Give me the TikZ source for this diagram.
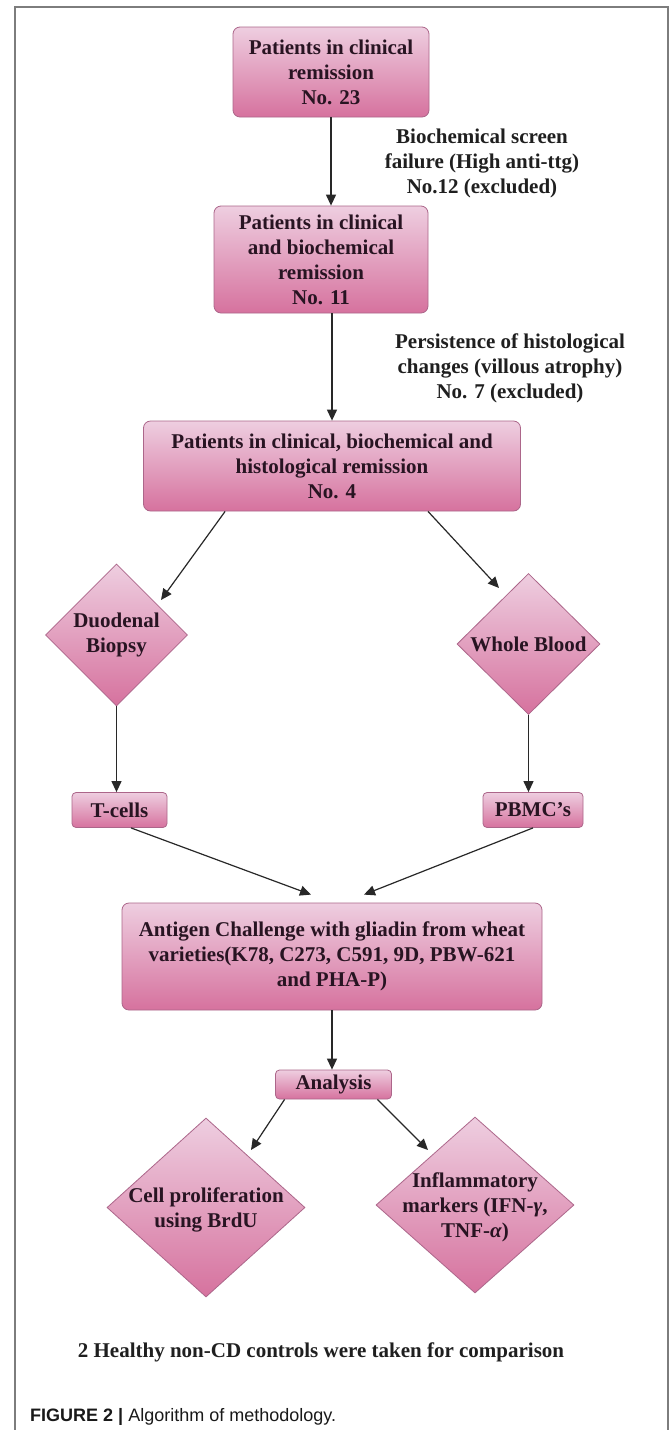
\documentclass[tikz,border=0pt]{standalone}
\usepackage{fontspec}
\setmainfont{Liberation Serif}
\newfontfamily\capfont{Liberation Sans}
\usetikzlibrary{shapes.geometric,arrows.meta,calc}
\definecolor{pinktop}{RGB}{238,206,224}
\definecolor{pinkbot}{RGB}{214,114,158}
\definecolor{pinkline}{RGB}{172,102,138}
\definecolor{txt}{RGB}{40,20,34}
\definecolor{arrowc}{RGB}{40,40,40}
\definecolor{framec}{RGB}{125,125,125}
\begin{document}
\begin{tikzpicture}[x=1pt,y=-1pt,
  box/.style={draw=pinkline, line width=0.8pt, rounded corners=7pt,
    top color=pinktop, bottom color=pinkbot, align=center, inner sep=0pt,
    text=txt, font=\fontsize{21}{25}\selectfont\bfseries},
  dia/.style={diamond, draw=pinkline, line width=0.8pt, top color=pinktop,
    bottom color=pinkbot, inner sep=0pt},
  dtext/.style={align=center, text=txt, inner sep=0pt, font=\fontsize{21}{25}\selectfont\bfseries},
  lbl/.style={align=center, text=black!88, inner sep=0pt, font=\fontsize{21}{25}\selectfont\bfseries},
  arr/.style={draw=arrowc, line width=1.2pt, -{Triangle[length=11pt,width=10pt]}}
]
\useasboundingbox (0,0) rectangle (671,1430);
\fill[white] (0,0) rectangle (671,1430);
\draw[framec, line width=1.4pt] (15,1431) -- (15,7) -- (668,7) -- (668,1431);

% boxes
\node[box, minimum width=196pt, minimum height=90pt] (b1) at (331,72)
  {Patients in clinical\\remission\\No. 23};
\node[box, minimum width=214pt, minimum height=107pt] (b2) at (321,259.5)
  {Patients in clinical\\and biochemical\\remission\\No. 11};
\node[box, minimum width=377pt, minimum height=90pt] (b3) at (332,466)
  {Patients in clinical, biochemical and\\histological remission\\No. 4};

\node[lbl] (l1) at (482,163) {Biochemical screen\\failure (High anti-ttg)\\No.12 (excluded)};
\node[lbl] (l2) at (510,368) {Persistence of histological\\changes (villous atrophy)\\No. 7 (excluded)};

% diamonds
\node[dia, minimum width=142pt, minimum height=142pt] (dd) at (116.5,635) {};
\node[dtext] (ddT) at (dd.center) {Duodenal\\Biopsy};
\node[dia, minimum width=143pt, minimum height=141pt] (wb) at (528.5,644) {};
\node[dtext] (wbT) at (wb.center) {Whole Blood};

\node[box, rounded corners=4pt, minimum width=95pt, minimum height=35pt] (tc) at (119.5,810) {T-cells};
\node[box, rounded corners=4pt, minimum width=100pt, minimum height=35pt] (pb) at (533,810) {PBMC's};

\node[box, minimum width=420pt, minimum height=107pt] (ag) at (332,956.5)
  {Antigen Challenge with gliadin from wheat\\varieties(K78, C273, C591, 9D, PBW-621\\and PHA-P)};
\node[box, rounded corners=4pt, minimum width=116pt, minimum height=29pt] (an) at (333.5,1084.5) {Analysis};

\node[dia, minimum width=198pt, minimum height=179pt] (cp) at (206,1207.5) {};
\node[dtext] (cpT) at (206,1209.5) {Cell proliferation\\using BrdU};
\node[dia, minimum width=198pt, minimum height=176pt] (inf) at (475,1205) {};
\node[dtext] (infT) at (475,1207.5) {Inflammatory\\markers (IFN-{\itshape γ},\\TNF-{\itshape α})};

\node[lbl] (foot) at (321,1352) {2 Healthy non-CD controls were taken for comparison};
\node[anchor=west, inner sep=0pt, text=black!90, font=\capfont\fontsize{18}{20}\selectfont] (cap) at (30,1417)
  {\textbf{FIGURE 2 |} Algorithm of methodology.};

% connectors
\draw[arr] (b1.south) -- (b1.south |- b2.north);
\draw[arr] (b3.north |- b2.south) -- (b3.north);
\draw[arr] ([xshift=82pt]b3.south west) -- ([shift={(44.5,-35)}]dd.center);
\draw[arr] ([xshift=96pt]b3.south) -- ([shift={(-29.5,-56)}]wb.center);
\draw[arr] (dd.south) -- (dd.south |- tc.north);
\draw[arr] (wb.south) -- (wb.south |- pb.north);
\draw[arr] ([xshift=11.5pt]tc.south) -- ([shift={(-21,-8)}]ag.north);
\draw[arr] (pb.south) -- ([shift={(32,-8)}]ag.north);
\draw[arr] (ag.south) -- (ag.south |- an.north);
\draw[arr] ([xshift=9.5pt]an.south west) -- ([shift={(45,-57.5)}]cp.center);
\draw[arr] ([xshift=-14.5pt]an.south east) -- ([shift={(-47,-55)}]inf.center);
\end{tikzpicture}
\end{document}
